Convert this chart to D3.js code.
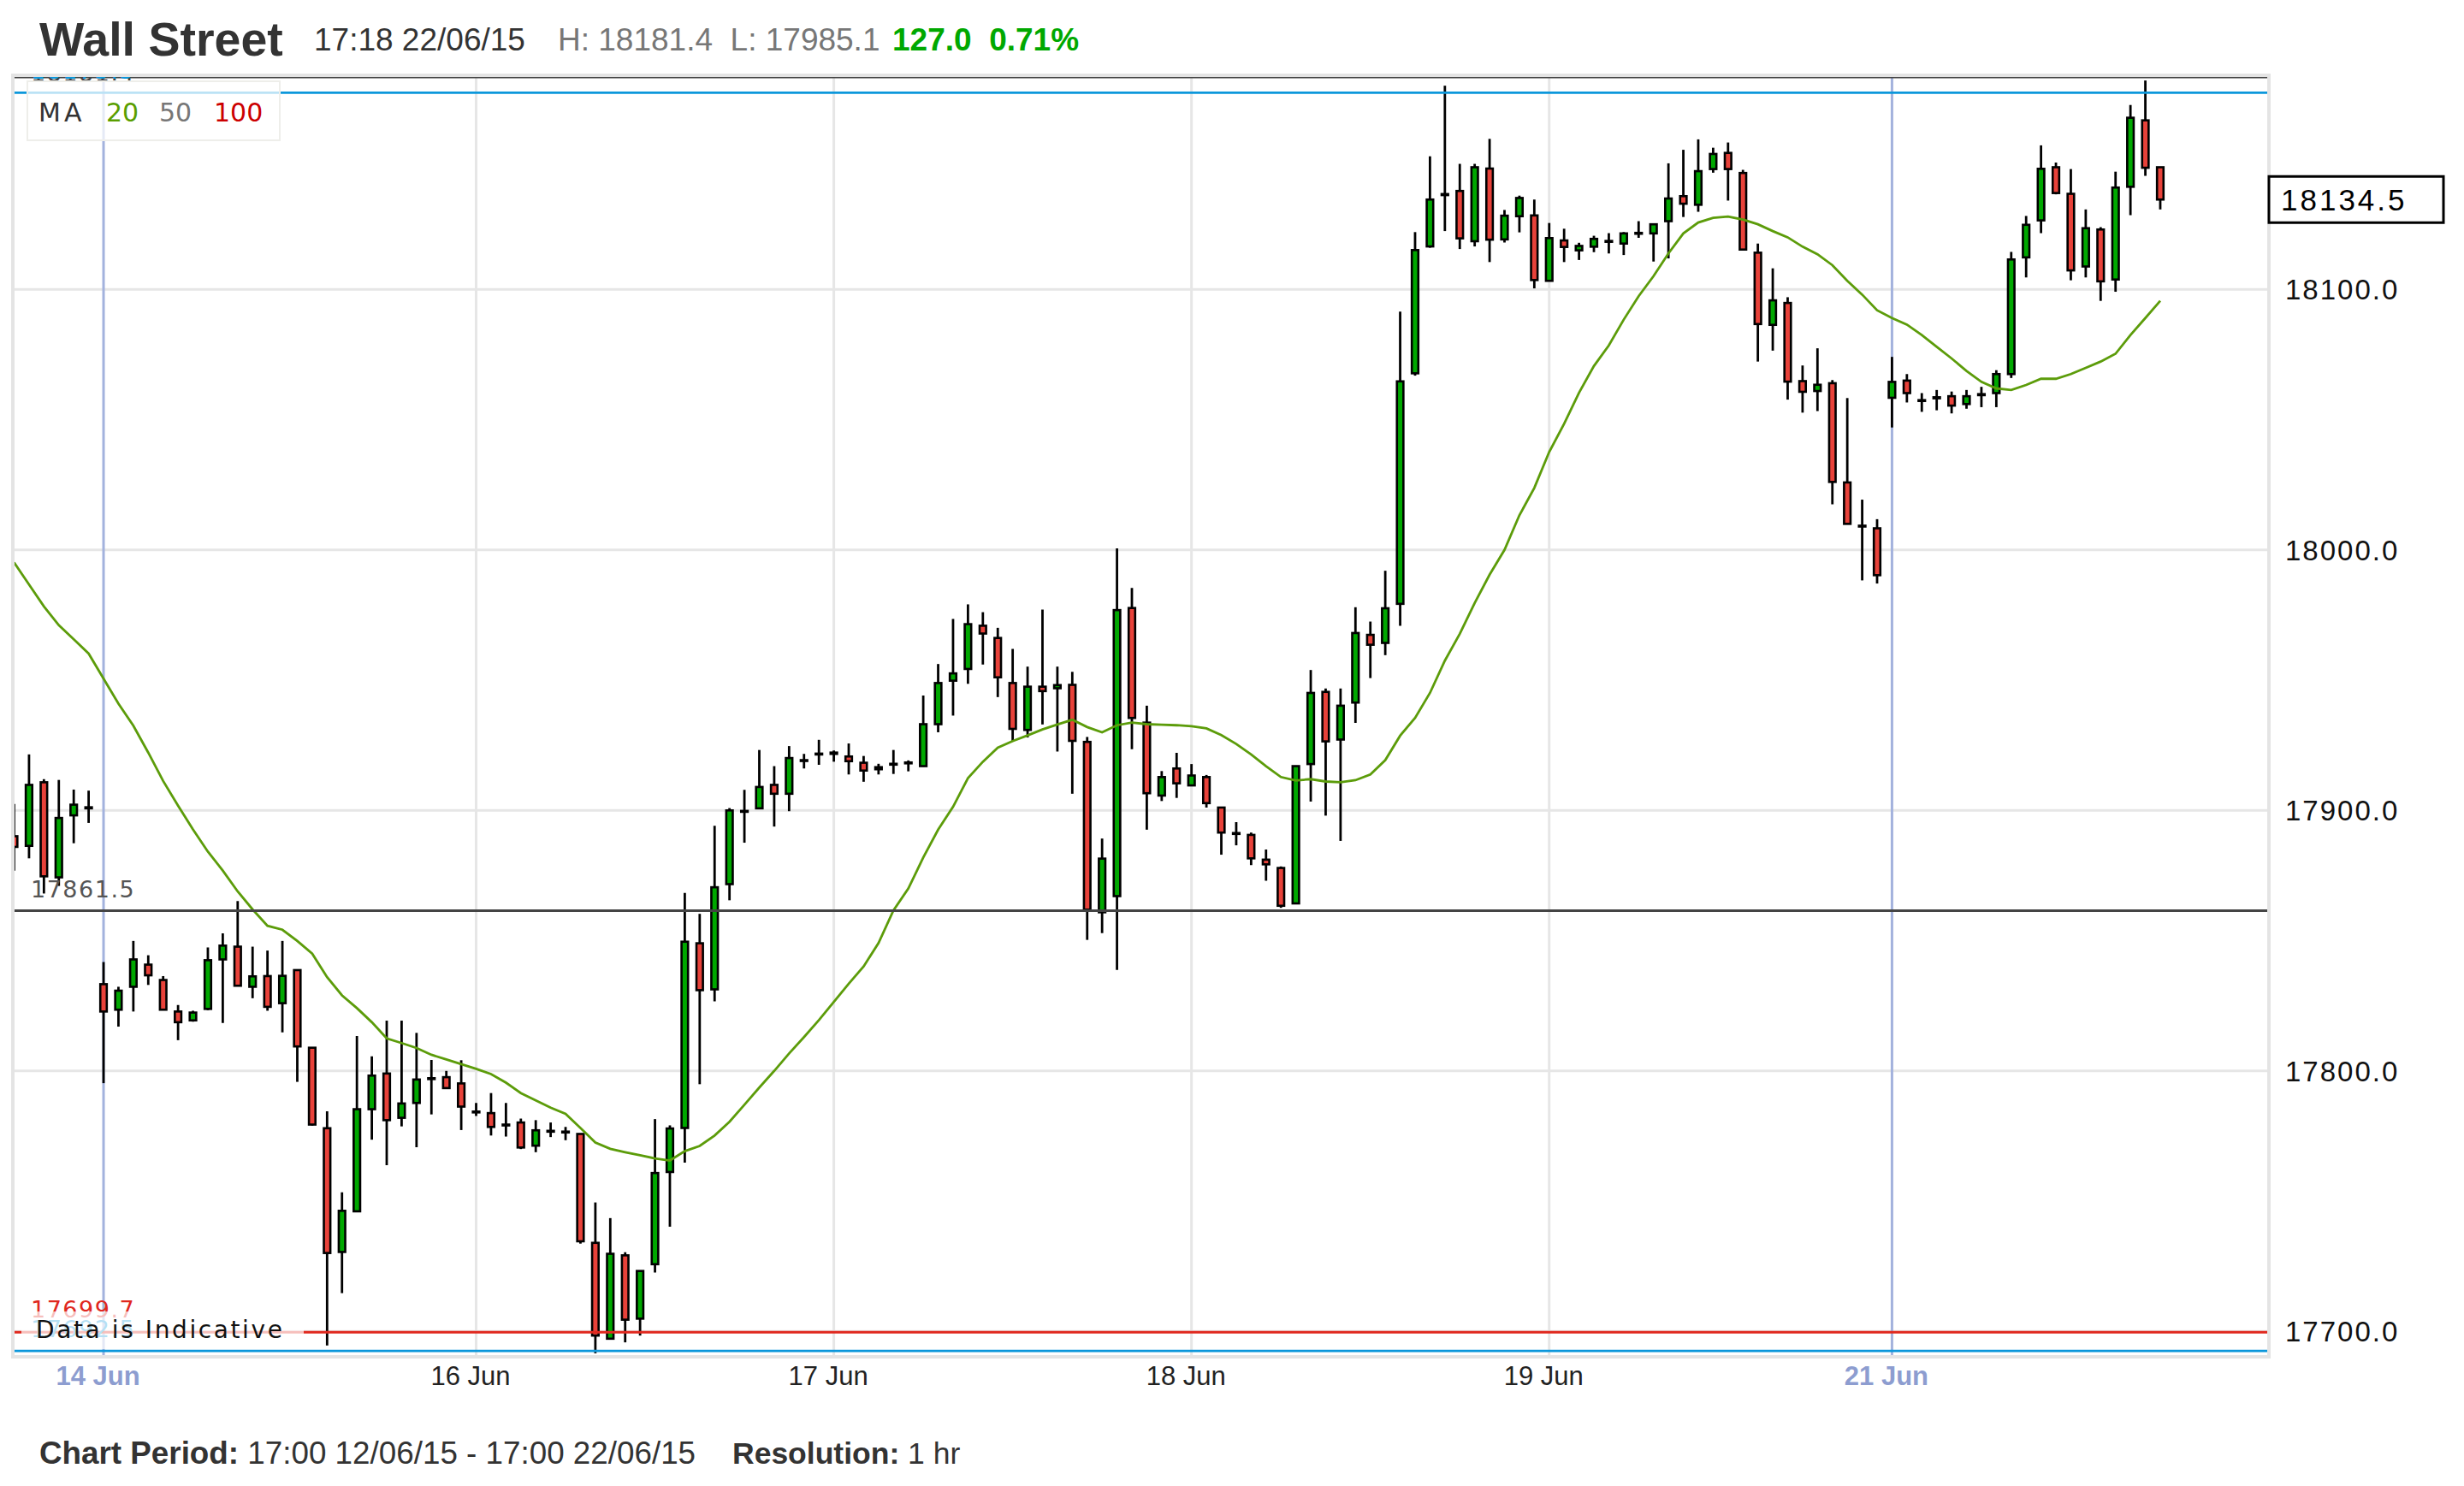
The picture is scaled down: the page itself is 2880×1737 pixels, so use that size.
<!DOCTYPE html>
<html><head><meta charset="utf-8">
<script src="https://cdn.jsdelivr.net/npm/d3@7"></script>
<style>
body{margin:0;background:#fff;}
svg{display:block;font-family:"Liberation Sans",Arial,sans-serif;}
</style></head><body>
<svg id="chart" width="2880" height="1737"></svg>
<script>
// ---- DATA (hourly candles, 17:00 12/06/15 - 17:00 22/06/15) ----
const openP = [17890.1,17886.4,17910.8,17874.3,17898.1,17900.8,17833.3,17823.5,17832.3,17840.8,
17834.9,17822.8,17819.4,17823.8,17842.8,17847.7,17832.3,17836.4,17826.0,17838.7,
17808.9,17778.0,17730.5,17746.1,17785.3,17799.0,17782.0,17787.7,17797.0,17797.6,
17795.2,17784.4,17783.8,17779.3,17780.2,17771.3,17776.8,17776.7,17775.8,17734.0,
17697.2,17729.2,17704.9,17725.8,17761.2,17778.1,17849.0,17831.3,17871.7,17899.5,
17900.8,17909.8,17906.4,17919.1,17921.6,17921.7,17920.7,17918.3,17915.8,17917.7,
17918.2,17917.0,17933.1,17949.8,17954.3,17970.9,17966.2,17948.9,17930.9,17947.5,
17946.9,17948.2,17926.3,17860.9,17867.1,17977.7,17933.7,17905.7,17916.1,17909.6,
17912.8,17901.1,17891.3,17890.6,17881.1,17877.9,17864.3,17917.8,17945.5,17927.2,
17941.4,17967.4,17964.3,17979.3,18067.8,18116.5,18136.2,18137.8,18118.5,18146.4,
18119.2,18128.1,18128.4,18103.3,18118.8,18115.0,18116.4,18118.4,18117.6,18121.5,
18121.5,18126.2,18135.8,18132.5,18146.2,18152.4,18144.7,18114.1,18086.4,18094.8,
18064.8,18061.0,18064.0,18025.9,18009.3,18008.3,18058.4,18065.0,18057.5,18058.2,
18059.0,18056.0,18059.4,18060.2,18067.5,18112.3,18126.5,18146.9,18136.7,18108.8,
18123.0,18103.8,18139.4,18164.9,18146.9];
const highP = [17902.5,17921.5,17912.0,17911.7,17908.0,17907.6,17841.8,17832.3,17849.9,17844.4,
17836.4,17825.3,17823.1,17847.4,17852.8,17865.2,17847.7,17846.2,17849.9,17838.9,
17809.1,17784.5,17753.4,17813.4,17805.6,17819.3,17819.3,17814.6,17804.2,17800.0,
17804.1,17787.7,17791.5,17787.7,17781.7,17781.1,17780.2,17778.5,17775.9,17749.5,
17743.5,17730.4,17723.4,17781.5,17779.1,17868.3,17860.3,17894.1,17900.9,17907.9,
17923.2,17917.0,17924.7,17921.7,17927.1,17923.0,17925.7,17920.9,17917.9,17923.2,
17919.2,17944.1,17956.2,17973.5,17979.1,17976.1,17970.1,17962.0,17955.2,17977.1,
17955.2,17953.2,17928.2,17889.2,18000.6,17985.4,17940.2,17915.1,17922.1,17917.8,
17913.6,17901.3,17895.5,17891.5,17885.0,17878.5,17917.2,17953.9,17946.8,17946.8,
17978.0,17972.5,17992.0,18091.5,18122.0,18151.1,18178.2,18148.2,18148.2,18157.8,
18130.5,18136.0,18134.5,18125.5,18123.3,18117.9,18120.6,18121.6,18122.0,18126.2,
18125.1,18148.4,18153.6,18157.6,18154.4,18156.4,18145.9,18117.6,18108.1,18097.0,
18070.8,18077.4,18065.2,18058.3,18019.3,18011.8,18074.1,18067.5,18060.2,18061.4,
18060.8,18061.4,18062.6,18069.0,18114.4,18128.2,18155.3,18148.7,18146.2,18130.7,
18123.9,18145.2,18170.8,18180.2,18146.9];
const lowP = [17876.9,17881.6,17868.1,17871.0,17887.4,17895.2,17795.3,17817.0,17822.8,17833.0,
17823.3,17811.8,17818.9,17823.3,17818.4,17832.5,17827.9,17823.1,17814.8,17795.8,
17779.0,17694.6,17714.7,17745.9,17773.6,17763.8,17778.7,17770.7,17783.3,17793.1,
17777.3,17782.7,17775.2,17774.8,17770.0,17768.8,17774.6,17773.4,17733.7,17691.6,
17697.0,17695.8,17698.4,17722.6,17740.2,17764.8,17794.9,17826.7,17865.5,17887.6,
17900.6,17893.8,17899.7,17916.1,17917.5,17918.7,17913.8,17911.0,17913.8,17914.0,
17915.0,17916.8,17930.0,17936.4,17948.6,17956.0,17943.5,17926.6,17928.0,17933.0,
17922.6,17906.4,17850.3,17852.9,17838.8,17923.5,17892.6,17903.6,17904.8,17909.4,
17901.1,17883.0,17886.6,17879.0,17873.0,17862.6,17864.1,17903.4,17898.0,17888.3,
17933.6,17950.8,17959.6,17970.9,18066.9,18116.0,18122.4,18115.5,18116.5,18110.5,
18118.0,18121.9,18100.4,18103.1,18110.5,18111.3,18114.3,18113.8,18113.2,18119.8,
18110.7,18111.9,18127.8,18129.8,18144.8,18134.1,18114.9,18072.3,18076.5,18057.7,
18052.7,18053.3,18017.5,18009.8,17988.3,17987.1,18047.0,18056.6,18053.0,18053.6,
18052.4,18054.2,18054.8,18054.8,18066.0,18104.6,18121.6,18136.5,18103.5,18104.6,
18095.6,18099.1,18128.5,18143.6,18130.7];
const closeP = [17886.0,17909.8,17874.7,17897.1,17902.2,17901.2,17822.8,17830.8,17842.8,17836.7,
17823.5,17818.7,17822.4,17842.5,17848.1,17832.7,17836.3,17824.6,17836.5,17809.4,
17779.4,17730.1,17746.3,17785.3,17798.2,17781.1,17787.5,17796.7,17797.2,17793.4,
17786.3,17784.3,17778.5,17779.4,17770.6,17777.2,17777.0,17776.5,17734.6,17698.4,
17729.8,17704.5,17723.2,17760.8,17777.9,17849.6,17831.0,17870.5,17900.0,17899.8,
17909.0,17906.4,17920.1,17919.3,17921.8,17922.2,17918.9,17915.3,17916.6,17917.9,
17918.4,17933.1,17948.9,17952.6,17971.5,17967.9,17951.1,17931.3,17947.5,17945.8,
17948.1,17926.7,17861.9,17881.5,17976.9,17935.5,17906.6,17912.8,17910.4,17913.4,
17902.8,17891.5,17891.1,17881.6,17879.3,17863.4,17917.0,17945.1,17926.5,17940.2,
17968.1,17963.6,17977.6,18064.7,18115.1,18134.5,18136.6,18119.6,18146.9,18119.1,
18128.3,18135.1,18103.6,18119.7,18116.3,18116.7,18119.4,18118.6,18121.5,18121.7,
18125.0,18134.9,18132.9,18145.4,18152.0,18146.2,18115.3,18086.7,18095.8,18064.6,
18060.7,18063.4,18026.1,18010.0,18009.1,17990.3,18064.5,18060.2,18057.2,18058.6,
18055.4,18059.0,18059.8,18067.5,18111.5,18124.8,18146.3,18137.0,18107.3,18123.5,
18103.1,18139.1,18165.9,18146.7,18134.5];
const ma20 = [17995.2,17986.7,17978.3,17971.1,17965.7,17960.2,17950.6,17941.0,17932.5,17922.2,
17911.3,17901.8,17892.7,17884.2,17876.9,17868.9,17862.0,17855.7,17854.2,17849.9,
17845.0,17836.0,17829.0,17824.1,17818.7,17812.5,17810.7,17808.8,17806.2,17804.4,
17802.6,17800.8,17798.8,17795.5,17791.5,17788.7,17785.9,17783.5,17778.1,17772.5,
17770.1,17768.8,17767.6,17766.4,17765.6,17769.2,17771.2,17775.2,17780.5,17787.0,
17793.6,17800.0,17806.7,17813.0,17819.5,17826.5,17833.5,17840.1,17849.1,17861.6,
17870.0,17881.9,17892.6,17901.4,17912.4,17918.7,17924.1,17926.6,17928.8,17931.1,
17933.0,17934.8,17932.0,17930.0,17932.7,17933.7,17933.1,17932.9,17932.7,17932.3,
17931.5,17928.9,17925.5,17921.5,17917.0,17912.8,17911.5,17912.0,17911.1,17910.8,
17911.6,17913.8,17919.3,17928.7,17935.5,17945.1,17957.5,17967.8,17979.6,17990.5,
18000.0,18013.3,18023.8,18037.6,18048.4,18060.3,18070.6,18078.5,18088.4,18097.4,
18105.1,18113.8,18121.5,18125.7,18127.5,18128.0,18126.8,18125.0,18122.4,18120.0,
18116.4,18113.5,18109.3,18103.3,18098.0,18092.0,18089.0,18086.5,18082.5,18078.0,
18073.5,18068.7,18064.5,18062.0,18061.4,18063.3,18065.7,18065.7,18067.5,18069.9,
18072.3,18075.3,18082.5,18089.0,18095.6];
const tickIndex = [6, 31, 55, 79, 103, 126];
const tickLabels = ["14 Jun", "16 Jun", "17 Jun", "18 Jun", "19 Jun", "21 Jun"];
const weekStartTick = [true, false, false, false, false, true];
const priceTicks = [17700, 17800, 17900, 18000, 18100];
const levelNames = ["dayHigh", "rangeHigh", "prevClose", "periodLow", "rangeLow"];
const levelValues = [18181.4, 18175.5, 17861.5, 17699.7, 17692.5];
const levelLabels = ["18181.4", "18175.5", "17861.5", "17699.7", "17692.5"];
const maLegend = ["20", "50", "100"];
const titleText = "Wall Street";
const timeText = "17:18 22/06/15";
const hiLoText = "H: 18181.4  L: 17985.1";
const changeText = "127.0  0.71%";

// ---- LAYOUT ----
const svg = d3.select("#chart");
const P = {left: 15, right: 2652, top: 88, bottom: 1586};
const x = d3.scaleLinear().domain([0, 144]).range([16.5, 16.5 + 144 * 17.42]);
const y = d3.scaleLinear().domain([17700, 18100]).range([1556.3, 338.3]);
const GREEN = "#00a800", RED = "#e8423a";

svg.append("rect").attr("width", 2880).attr("height", 1737).attr("fill", "#fff");

// header
const hdr = svg.append("g");
hdr.append("text").attr("x", 46).attr("y", 65).attr("font-size", 55.5).attr("font-weight", "bold")
  .attr("fill", "#333").text(titleText);
hdr.append("text").attr("x", 367).attr("y", 59).attr("font-size", 37).attr("fill", "#333").text(timeText);
hdr.append("text").attr("x", 652).attr("y", 59).attr("font-size", 37).attr("fill", "#777")
  .style("white-space", "pre").text(hiLoText);
hdr.append("text").attr("x", 1043).attr("y", 59).attr("font-size", 37).attr("font-weight", "bold")
  .attr("fill", "#00a800").style("white-space", "pre").text(changeText);

// clip
svg.append("defs").append("clipPath").attr("id", "plotClip").append("rect")
  .attr("x", P.left + 2).attr("y", P.top + 2).attr("width", P.right - P.left - 4).attr("height", P.bottom - P.top - 4);
const plot = svg.append("g").attr("clip-path", "url(#plotClip)");

// horizontal gridlines
plot.selectAll(".hg").data(priceTicks).join("line")
  .attr("x1", P.left).attr("x2", P.right).attr("y1", d => y(d)).attr("y2", d => y(d))
  .attr("stroke", "#e6e6e6").attr("stroke-width", 3);
// vertical gridlines
plot.selectAll(".vg").data(tickIndex).join("line")
  .attr("x1", d => x(d)).attr("x2", d => x(d)).attr("y1", P.top).attr("y2", P.bottom)
  .attr("stroke", (d, i) => weekStartTick[i] ? "#a3b2dd" : "#e6e6e6").attr("stroke-width", 3);

// candles
const idx = d3.range(closeP.length);
const cg = plot.append("g");
cg.selectAll(".wick").data(idx).join("line")
  .attr("x1", i => x(i)).attr("x2", i => x(i))
  .attr("y1", i => y(highP[i])).attr("y2", i => y(lowP[i]))
  .attr("stroke", "#000").attr("stroke-width", 2.8);
cg.selectAll(".body").data(idx).join("rect")
  .attr("x", i => x(i) - 3.8).attr("width", 7.6)
  .attr("y", i => y(Math.max(openP[i], closeP[i])))
  .attr("height", i => Math.max(1, Math.abs(y(openP[i]) - y(closeP[i]))))
  .attr("fill", i => closeP[i] >= openP[i] ? GREEN : RED)
  .attr("stroke", "#000").attr("stroke-width", 2.6);

// MA line
plot.append("path").datum(idx)
  .attr("d", d3.line().x(i => x(i)).y(i => y(ma20[i])))
  .attr("fill", "none").attr("stroke", "#5c9c0a").attr("stroke-width", 2.8);

// level lines
const levelStyle = {
  dayHigh: {stroke: "#444", w: 2, label: "#444"},
  rangeHigh: {stroke: "#0c97db", w: 2.8, label: "#0c97db"},
  prevClose: {stroke: "#444", w: 3, label: "#555"},
  periodLow: {stroke: "#e0281e", w: 3, label: "#e0281e"},
  rangeLow: {stroke: "#0c97db", w: 2.8, label: "#0c97db"}
};
const labelDy = {dayHigh: 5, rangeHigh: -16, prevClose: -16, periodLow: -17, rangeLow: -16};
levelNames.forEach((n, i) => {
  const s = levelStyle[n];
  plot.append("line").attr("x1", P.left).attr("x2", P.right)
    .attr("y1", y(levelValues[i])).attr("y2", y(levelValues[i]))
    .attr("stroke", s.stroke).attr("stroke-width", s.w);
  plot.append("text").attr("x", 36).attr("y", y(levelValues[i]) + labelDy[n])
    .attr("font-family", "DejaVu Sans").attr("font-size", 27).attr("letter-spacing", 1.5)
    .attr("fill", s.label).text(levelLabels[i]);
});

// "Data is Indicative" box
plot.append("rect").attr("x", 25).attr("y", 1533).attr("width", 330).attr("height", 44)
  .attr("fill", "#fff").attr("opacity", 0.7);
plot.append("text").attr("x", 42).attr("y", 1564).attr("font-family", "DejaVu Sans")
  .attr("font-size", 28).attr("letter-spacing", 2.6).attr("fill", "#111").text("Data is Indicative");

// legend box
plot.append("rect").attr("x", 32).attr("y", 95).attr("width", 295).attr("height", 69)
  .attr("fill", "rgba(255,255,255,0.72)").attr("stroke", "#eeeeea").attr("stroke-width", 2);
const lg = plot.append("text").attr("y", 142).attr("font-family", "DejaVu Sans").attr("font-size", 30);
lg.append("tspan").attr("x", 45).attr("fill", "#333").attr("letter-spacing", 4).text("MA");
const legColors = ["#5a9e00", "#777", "#cc0000"];
const legX = [124, 186, 250];
maLegend.forEach((t, i) => lg.append("tspan").attr("x", legX[i]).attr("fill", legColors[i]).text(t));

// frame
svg.append("rect").attr("x", P.left).attr("y", P.top).attr("width", P.right - P.left).attr("height", P.bottom - P.top)
  .attr("fill", "none").attr("stroke", "#e4e4e4").attr("stroke-width", 4);

// right axis
const ya = svg.append("g").attr("transform", "translate(2668,0)")
  .call(d3.axisRight(y).tickValues(priceTicks).tickFormat(d3.format(".1f")).tickSize(0).tickPadding(3));
ya.select(".domain").remove();
ya.selectAll("text").attr("font-family", "Liberation Sans").attr("font-size", 33)
  .attr("letter-spacing", 2).attr("fill", "#111").attr("dy", "0.35em");

// current price box
const last = closeP[closeP.length - 1];
svg.append("rect").attr("x", 2652).attr("y", y(last) - 27).attr("width", 204).attr("height", 54)
  .attr("fill", "#fff").attr("stroke", "#000").attr("stroke-width", 3);
svg.append("text").attr("x", 2666).attr("y", y(last)).attr("dy", "0.36em").attr("font-size", 35)
  .attr("letter-spacing", 3).attr("fill", "#000").text(d3.format(".1f")(last));

// bottom axis
const xa = svg.append("g").attr("transform", "translate(-7," + (P.bottom) + ")")
  .call(d3.axisBottom(x).tickValues(tickIndex).tickFormat((d, i) => tickLabels[i]).tickSize(0));
xa.select(".domain").remove();
xa.selectAll("text").attr("y", 33).attr("dy", 0).attr("font-family", "Liberation Sans").attr("font-size", 31)
  .attr("fill", (d, i) => weekStartTick[i] ? "#8d9dd0" : "#222")
  .attr("font-weight", (d, i) => weekStartTick[i] ? "bold" : "normal");

// footer
const ft = svg.append("text").attr("x", 46).attr("y", 1711).attr("font-size", 36.8).attr("fill", "#333").style("white-space", "pre");
ft.append("tspan").attr("font-weight", "bold").text("Chart Period:");
ft.append("tspan").text(" 17:00 12/06/15 - 17:00 22/06/15");
const ft2 = svg.append("text").attr("x", 856).attr("y", 1711).attr("font-size", 35.5).attr("fill", "#333").style("white-space", "pre");
ft2.append("tspan").attr("font-weight", "bold").text("Resolution:");
ft2.append("tspan").text(" 1 hr");
</script>
</body></html>
